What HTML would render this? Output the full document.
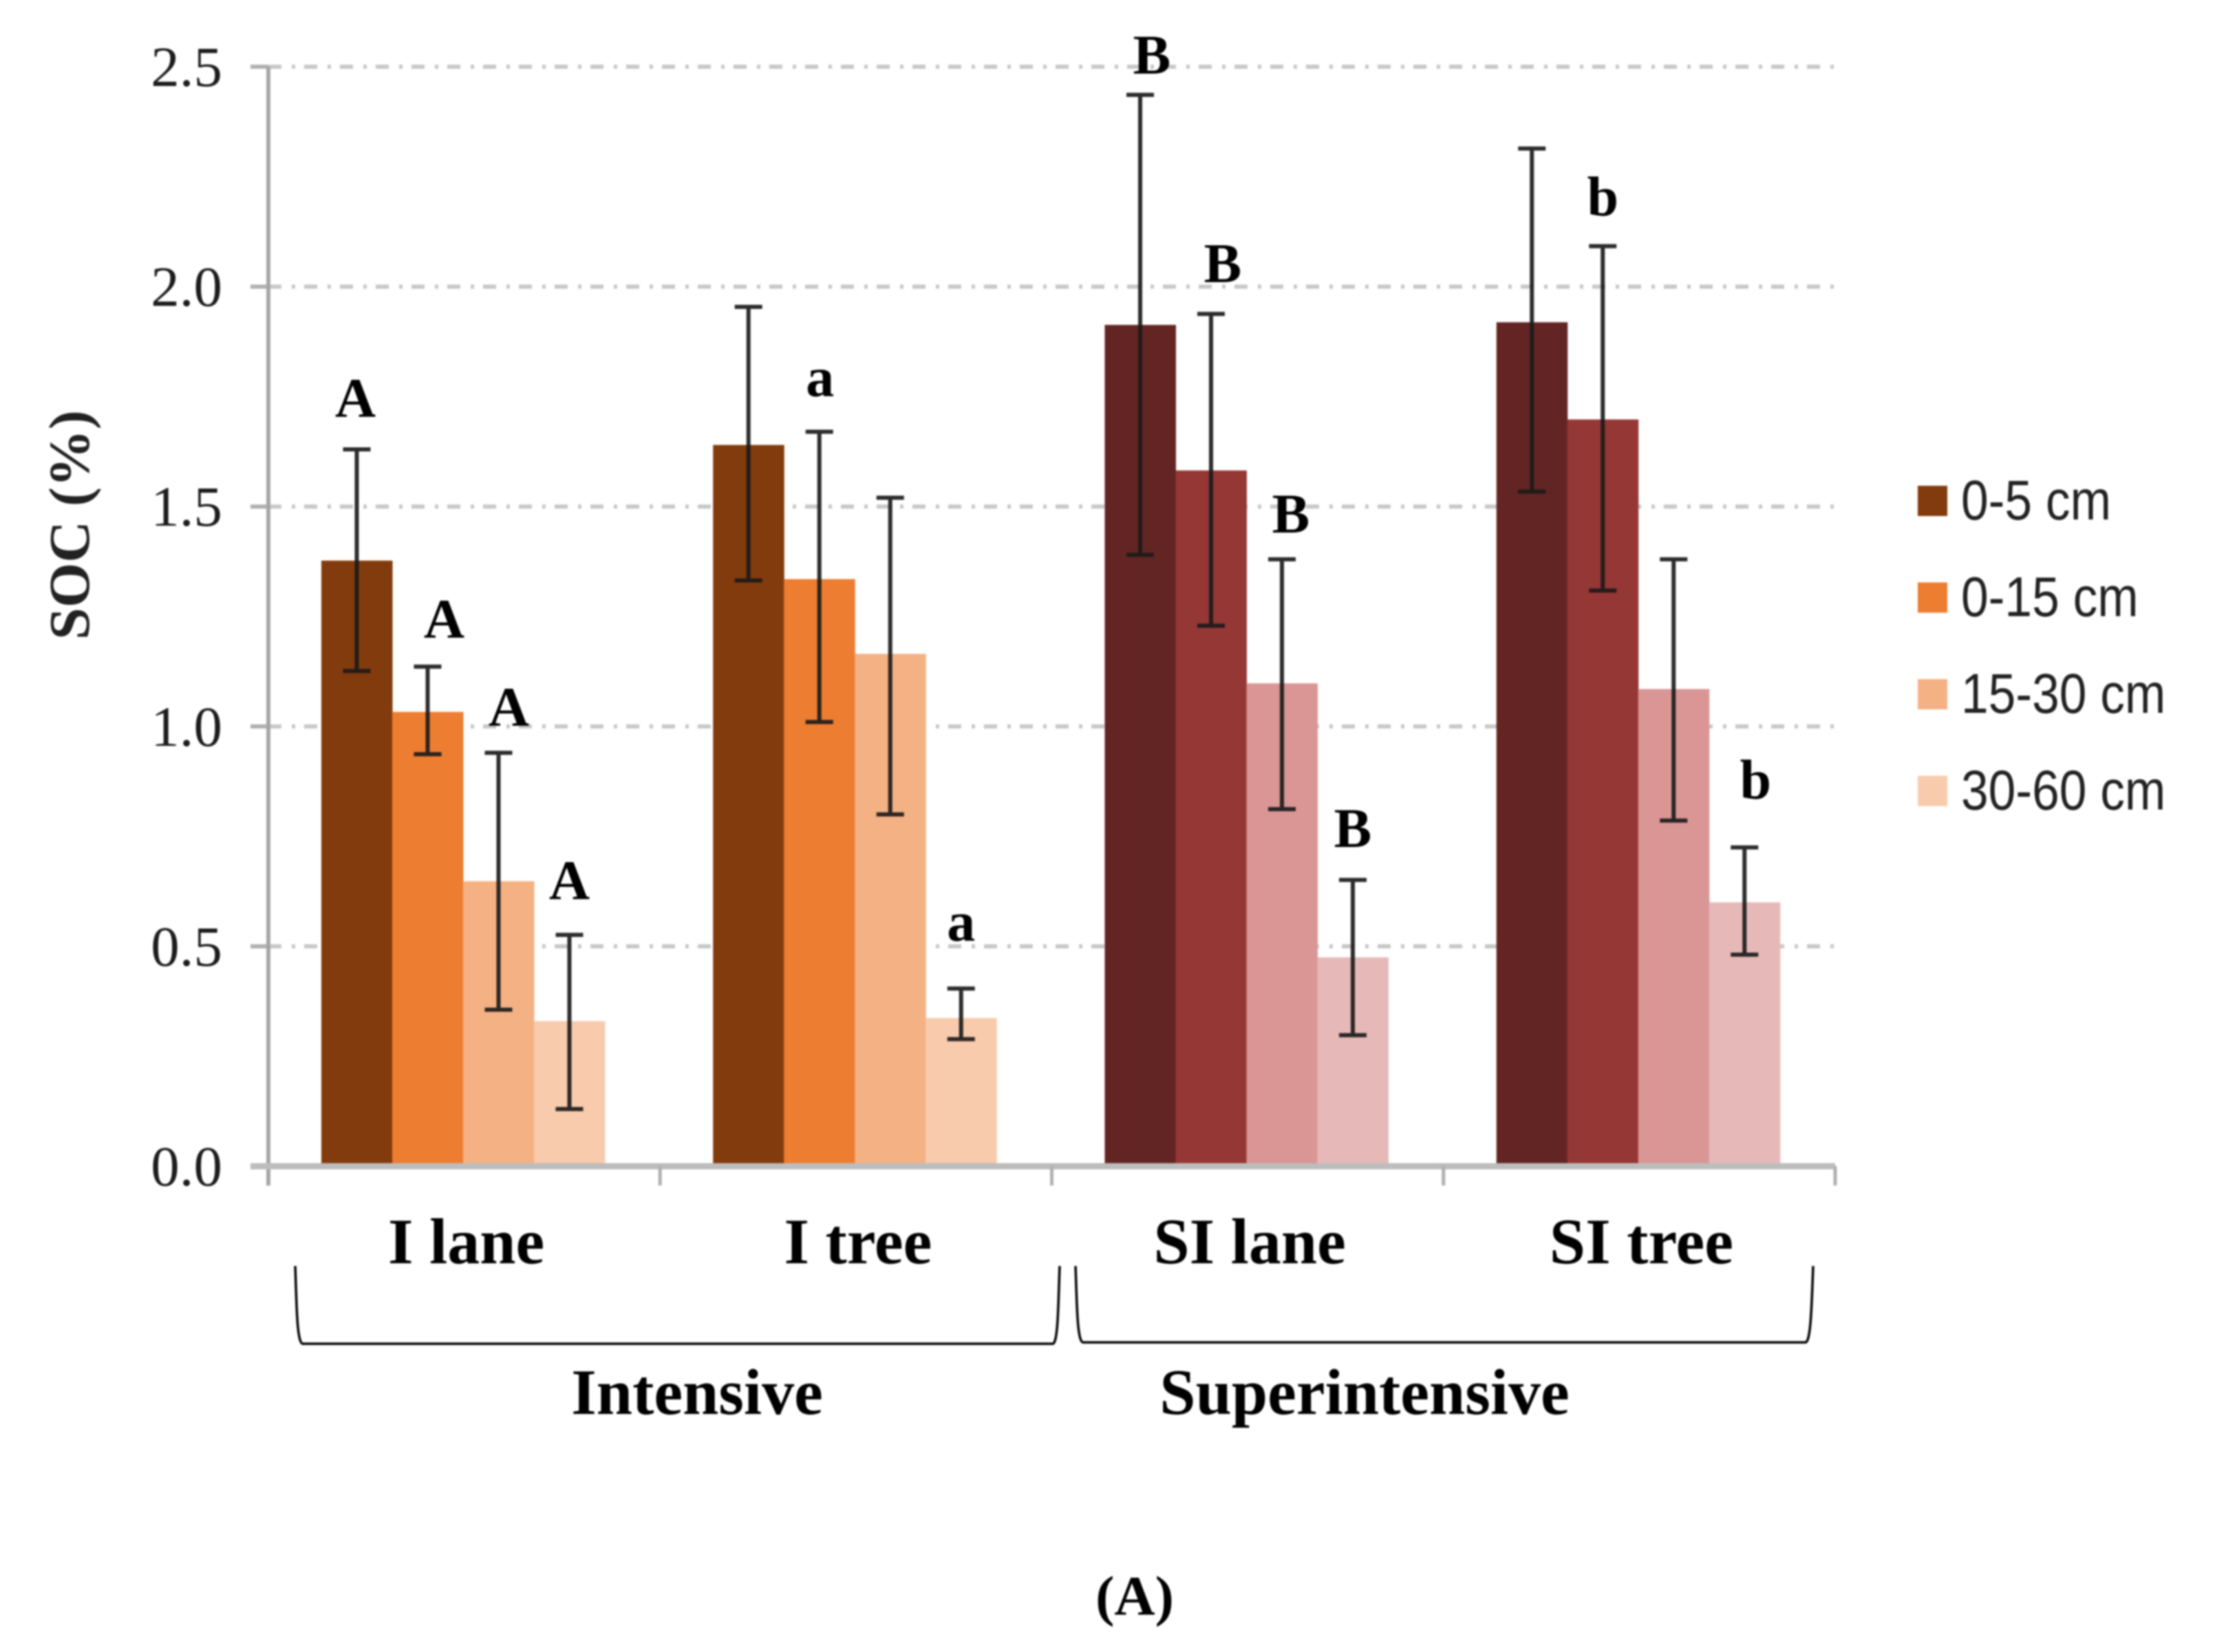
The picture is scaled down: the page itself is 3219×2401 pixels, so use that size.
<!DOCTYPE html>
<html lang="en">
<head>
<meta charset="utf-8">
<title>SOC by depth</title>
<style>
html,body{margin:0;padding:0;background:#fff;}
#chart{display:block;width:3219px;height:2401px;filter:blur(1.2px);}
text{font-family:"Liberation Serif",serif;}
</style>
</head>
<body>
<svg id="chart" xmlns="http://www.w3.org/2000/svg" width="3219" height="2401" viewBox="0 0 3219 2401"></svg>
<script>
const categories = ['I lane', 'I tree', 'SI lane', 'SI tree'];
const depths = ['0-5 cm', '0-15 cm', '15-30 cm', '30-60 cm'];
const yTicks = ['0.0', '0.5', '1.0', '1.5', '2.0', '2.5'];
const means0to5 = [1.377, 1.64, 1.913, 1.919];
const means0to15 = [1.033, 1.335, 1.582, 1.698];
const means15to30 = [0.648, 1.165, 1.098, 1.085];
const means30to60 = [0.33, 0.337, 0.475, 0.60];
const upper0to5 = [1.63, 1.954, 2.436, 2.314];
const upper0to15 = [1.136, 1.67, 1.938, 2.092];
const upper15to30 = [0.94, 1.52, 1.38, 1.38];
const upper30to60 = [0.526, 0.404, 0.651, 0.725];
const lower0to5 = [1.126, 1.332, 1.39, 1.534];
const lower0to15 = [0.937, 1.01, 1.229, 1.309];
const lower15to30 = [0.356, 0.80, 0.812, 0.786];
const lower30to60 = [0.13, 0.289, 0.298, 0.481];
const letters0to5 = ['A', '', 'B', ''];
const letters0to15 = ['A', 'a', 'B', 'b'];
const letters15to30 = ['A', '', 'B', ''];
const letters30to60 = ['A', 'a', 'B', 'b'];

const means = [means0to5, means0to15, means15to30, means30to60];
const uppers = [upper0to5, upper0to15, upper15to30, upper30to60];
const lowers = [lower0to5, lower0to15, lower15to30, lower30to60];
const letters = [letters0to5, letters0to15, letters15to30, letters30to60];

(function () {
  const svg = document.getElementById('chart');
  const NS = 'http://www.w3.org/2000/svg';
  const plotLeft = 390, plotRight = 2667, yZero = 1695, yTop = 97, yMax = 2.5;
  const catStep = (plotRight - plotLeft) / categories.length;
  const groupInset = 77, barW = 103;
  const orange = ['#823B0C', '#ED7D31', '#F4B183', '#F8CBAD'];
  const red = ['#632523', '#953735', '#D99694', '#E6B9B8'];
  const barGroupColors = [orange, orange, red, red];
  const letterNudge = {
    '0-0': [-2, 47], '0-1': [24, 42], '0-2': [15, 39], '0-3': [0, 52],
    '1-1': [1, 52], '1-3': [0, 70],
    '2-0': [17, 31], '2-1': [17, 46], '2-2': [13, 39], '2-3': [0, 48],
    '3-1': [0, 45], '3-3': [16, 71]
  };

  function y(v) { return yZero - (v / yMax) * (yZero - yTop); }
  function xCat(i) { return plotLeft + catStep * i; }
  function xBar(g, s) { return xCat(g) + groupInset + s * barW; }
  function mk(tag, attrs, text) {
    const el = document.createElementNS(NS, tag);
    for (const k in attrs) el.setAttribute(k, attrs[k]);
    if (text !== undefined) el.textContent = text;
    svg.appendChild(el);
    return el;
  }

  yTicks.forEach(function (t) {
    const yy = y(parseFloat(t));
    if (parseFloat(t) > 0) {
      const grid = mk('line', { x1: plotLeft, x2: plotRight, y1: yy, y2: yy, stroke: '#c8c8c8', 'stroke-width': 6, 'stroke-dasharray': '19 15 5 13' });
      
      
    }
    const tick = mk('line', { x1: 364, x2: plotLeft, y1: yy, y2: yy, stroke: '#b0b0b0', 'stroke-width': 6 });
    
    
    const label = mk('text', { x: 323, y: yy + 28, 'text-anchor': 'end', 'font-size': 83, fill: '#1c1c1c' }, t);
    
    
  });

  categories.forEach(function (c, g) {
    depths.forEach(function (d, s) {
      const top = y(means[s][g]);
      const bar = mk('rect', { x: xBar(g, s), y: top, width: barW + 0.5, height: yZero - top, fill: barGroupColors[g][s] });
      
      
    });
  });

  const yAxis = mk('line', { x1: plotLeft, x2: plotLeft, y1: yTop, y2: yZero + 28, stroke: '#a6a6a6', 'stroke-width': 6 });
  
  
  const xAxis = mk('line', { x1: 364, x2: plotRight, y1: yZero, y2: yZero, stroke: '#bdbdbd', 'stroke-width': 9 });
  
  

  for (let i = 1; i <= categories.length; i++) {
    const tick = mk('line', { x1: xCat(i), x2: xCat(i), y1: yZero, y2: yZero + 28, stroke: '#b0b0b0', 'stroke-width': 5 });
    
    
  }

  categories.forEach(function (c, g) {
    const label = mk('text', { x: xCat(g) + catStep / 2 + 3, y: 1836, 'text-anchor': 'middle', 'font-size': 94, 'font-weight': 'bold', fill: '#000' }, c);
    
    
    depths.forEach(function (d, s) {
      const cx = xBar(g, s) + barW / 2;
      const hi = y(uppers[s][g]), lo = y(lowers[s][g]);
      const err = mk('path', { d: 'M' + (cx - 20) + ' ' + hi + 'H' + (cx + 20) + 'M' + cx + ' ' + hi + 'V' + lo + 'M' + (cx - 20) + ' ' + lo + 'H' + (cx + 20), stroke: '#1a1a1a', 'stroke-width': 6, fill: 'none', 'stroke-opacity': 0.92 });
      
      
      const letter = letters[s][g];
      if (letter) {
        const n = letterNudge[g + '-' + s];
        const t = mk('text', { x: cx + n[0], y: hi - n[1], 'text-anchor': 'middle', 'font-size': 82, 'font-weight': 'bold', fill: '#000' }, letter);
        
        
      }
    });
  });

  const yTitle = mk('text', { transform: 'translate(129 763) rotate(-90)', 'font-size': 84, 'font-weight': 'bold', fill: '#222', 'text-anchor': 'middle' }, 'SOC (%)');
  
  

  depths.forEach(function (d, s) {
    const cy = 728 + s * 140.5;
    const sw = mk('rect', { x: 2787, y: cy - 22, width: 43, height: 44, fill: orange[s] });
    
    
    const t = mk('text', { transform: 'translate(2850 ' + (cy + 27) + ') scale(0.87 1)', 'font-size': 82, fill: '#222' }, d);
    t.style.fontFamily = '"Liberation Sans", sans-serif';
    
    
  });

  const bracketLeft = mk('path', { d: 'M429 1840 C431 1890 431 1952 440 1953 H1530 C1538 1952 1538 1890 1540 1840', stroke: '#000', 'stroke-width': 3.5, fill: 'none' });
  
  
  const bracketRight = mk('path', { d: 'M1563 1840 C1565 1890 1565 1950 1574 1951 H2624 C2632 1950 2633 1890 2635 1840', stroke: '#000', 'stroke-width': 3.5, fill: 'none' });
  
  

  const g1 = mk('text', { x: 1013, y: 2055, 'text-anchor': 'middle', 'font-size': 94, 'font-weight': 'bold', fill: '#000' }, 'Intensive');
  
  
  const g2 = mk('text', { x: 1983, y: 2055, 'text-anchor': 'middle', 'font-size': 94, 'font-weight': 'bold', fill: '#000' }, 'Superintensive');
  
  
  const panel = mk('text', { x: 1649, y: 2347, 'text-anchor': 'middle', 'font-size': 82, 'font-weight': 'bold', fill: '#000' }, '(A)');
  
  
})();
</script>
</body>
</html>
